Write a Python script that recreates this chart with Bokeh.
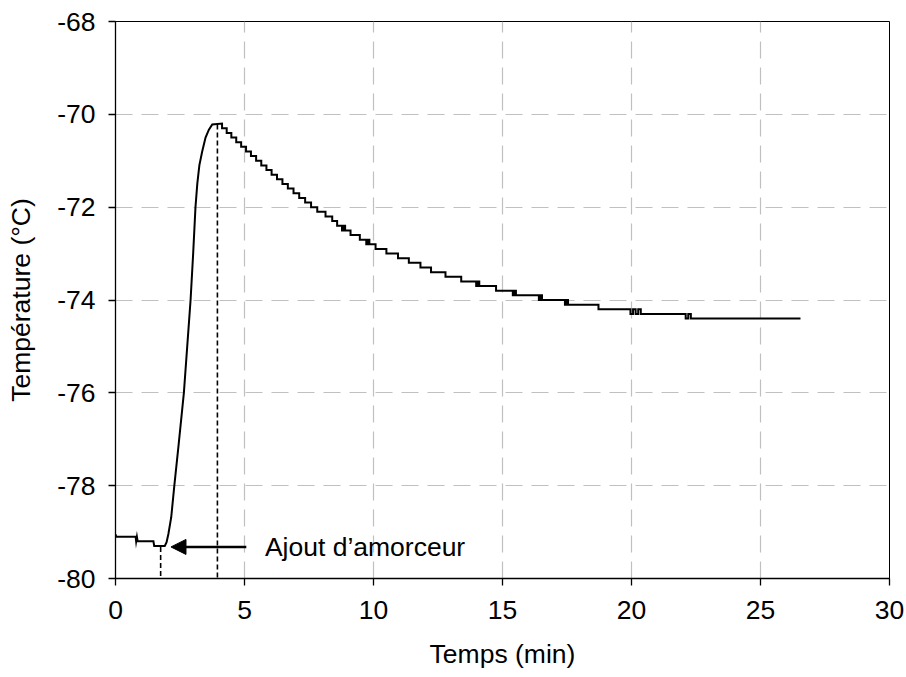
from bokeh.plotting import figure
from bokeh.models import Range1d, FixedTicker, Arrow, NormalHead, Label, CustomJSTickFormatter
from bokeh.embed import file_html
from bokeh.resources import INLINE

# ---- data (time in min, temperature in °C) ----
# baseline + exotherm rise
rise_time = [0.0, 0.03, 0.78, 0.80, 0.83, 0.86, 1.47, 1.50, 1.91, 1.98, 2.05, 2.16,
             2.28, 2.45, 2.65, 2.78, 2.91, 3.01, 3.10, 3.17, 3.25, 3.36, 3.49, 3.62, 3.75, 4.13]
rise_temp = [-79.05, -79.1, -79.1, -79.2, -79.1, -79.2, -79.2, -79.3, -79.3, -79.22, -79.04, -78.68,
             -78.0, -77.1, -76.0, -75.0, -74.0, -73.0, -72.0, -71.5, -71.1, -70.8, -70.5, -70.33, -70.22, -70.2]

# cooling: times at which the recorded temperature changes, and the new reading
decay_time = [4.13, 4.31, 4.49, 4.68, 4.87, 5.06, 5.25, 5.45, 5.65, 5.85, 6.05, 6.26, 6.47,
              6.68, 6.90, 7.12, 7.35, 7.58, 7.82, 8.14, 8.40, 8.59, 8.78, 8.84, 8.90, 9.11,
              9.47, 9.72, 9.78, 9.84, 10.08, 10.50, 10.95, 11.37, 11.82, 12.23, 12.79, 13.40,
              13.98, 14.04, 14.10, 14.75, 15.40, 15.46, 15.52, 16.41, 16.47, 16.53, 17.42,
              17.48, 17.54, 18.72, 19.96, 20.06, 20.16, 20.26, 20.36, 22.10, 22.20, 22.30]
decay_temp = [-70.3, -70.4, -70.5, -70.6, -70.7, -70.8, -70.9, -71.0, -71.1, -71.2, -71.3, -71.4,
              -71.5, -71.6, -71.7, -71.8, -71.9, -72.0, -72.1, -72.2, -72.3, -72.4, -72.5, -72.4,
              -72.5, -72.6, -72.7, -72.8, -72.7, -72.8, -72.9, -73.0, -73.1, -73.2, -73.3, -73.4,
              -73.5, -73.6, -73.7, -73.6, -73.7, -73.8, -73.9, -73.8, -73.9, -74.0, -73.9, -74.0,
              -74.1, -74.0, -74.1, -74.2, -74.3, -74.2, -74.3, -74.2, -74.3, -74.4, -74.3, -74.4]
end_time = 26.55

# marked events
t_initiator, T_initiator = 1.75, -79.32   # ajout d'amorceur
t_peak, T_peak = 3.95, -70.22             # maximum
arrow_from, arrow_to = 5.07, 2.15
label_x = 5.79
label_text = "Ajout d\u2019amorceur"

x_ticks = [0, 5, 10, 15, 20, 25, 30]
y_ticks = [-80, -78, -76, -74, -72, -70, -68]

assert len(decay_time) == len(decay_temp)

# build the recorded curve (readings held until the next change)
xs = list(rise_time)
ys = list(rise_temp)
prev = ys[-1]
for t, v in zip(decay_time, decay_temp):
    xs += [t, t]
    ys += [prev, v]
    prev = v
xs.append(end_time)
ys.append(prev)

FONT = "Liberation Sans"
FS = "26.5px"

p = figure(width=906, height=677, output_backend="svg", toolbar_location=None,
           x_range=Range1d(0, 30), y_range=Range1d(-80, -68),
           min_border_left=115, min_border_right=17, min_border_top=21, min_border_bottom=99)
p.background_fill_color = "white"
p.border_fill_color = "white"
p.outline_line_color = "black"
p.outline_line_width = 1

fmt = CustomJSTickFormatter(code="return String(tick);")
for ax in (p.xaxis[0], p.yaxis[0]):
    ax.axis_line_color = "black"
    ax.axis_line_width = 1.3
    ax.major_tick_line_color = "black"
    ax.major_tick_line_width = 1.3
    ax.major_tick_out = 7
    ax.major_tick_in = 0
    ax.minor_tick_line_color = None
    ax.major_label_text_font = FONT
    ax.major_label_text_font_size = FS
    ax.major_label_text_color = "black"
    ax.axis_label_text_font = FONT
    ax.axis_label_text_font_size = FS
    ax.axis_label_text_font_style = "normal"
    ax.axis_label_text_color = "black"
    ax.formatter = fmt

p.xaxis[0].ticker = FixedTicker(ticks=x_ticks)
p.yaxis[0].ticker = FixedTicker(ticks=y_ticks)
p.xaxis[0].axis_label = "Temps (min)"
p.yaxis[0].axis_label = "Température (°C)"
p.xaxis[0].major_label_standoff = 15
p.yaxis[0].major_label_standoff = 13
p.xaxis[0].axis_label_standoff = 17
p.yaxis[0].axis_label_standoff = 18

for g in (p.xgrid[0], p.ygrid[0]):
    g.grid_line_color = "#c0c0c0"
    g.grid_line_width = 1.2
    g.grid_line_dash = "17 9"
p.xgrid[0].ticker = FixedTicker(ticks=x_ticks)
p.ygrid[0].ticker = FixedTicker(ticks=y_ticks)

# dashed markers
p.segment(x0=[t_initiator, t_peak], y0=[T_initiator, T_peak],
          x1=[t_initiator, t_peak], y1=[-80, -80],
          line_color="black", line_width=1.6, line_dash="5 3")

p.line(xs, ys, line_color="black", line_width=2, line_join="miter")

p.add_layout(Arrow(end=NormalHead(size=15, fill_color="black", line_color="black"),
                   x_start=arrow_from, y_start=T_initiator, x_end=arrow_to, y_end=T_initiator,
                   line_color="black", line_width=2.5))
p.add_layout(Label(x=label_x, y=T_initiator, text=label_text, text_font=FONT,
                   text_font_size=FS, text_baseline="middle", text_align="left",
                   text_color="black"))

open("out.html", "w").write(file_html(p, INLINE))
